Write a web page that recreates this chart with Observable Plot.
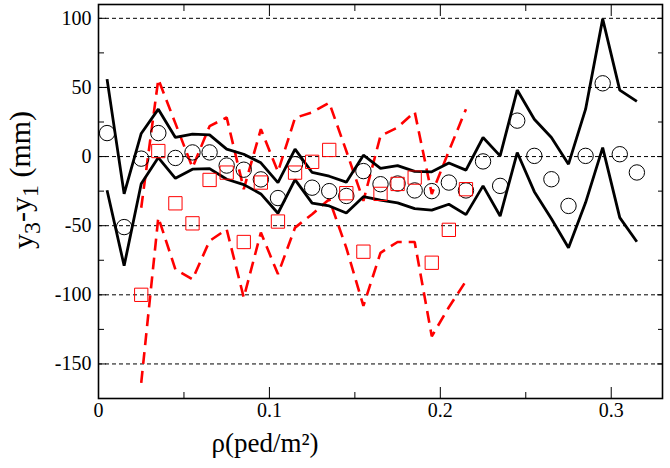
<!DOCTYPE html>
<html>
<head>
<meta charset="utf-8">
<script src="https://cdn.jsdelivr.net/npm/d3@7"></script>
<script src="https://cdn.jsdelivr.net/npm/@observablehq/plot@0.6"></script>
<style>
  body { margin: 0; background: #fff; }
  #chart svg { display: block; }
</style>
</head>
<body>
<div id="chart"></div>
<script>
// ---- data ----
const rhoBlack = [0.005, 0.015, 0.025, 0.035, 0.045, 0.055, 0.065, 0.075, 0.085, 0.095,
                  0.105, 0.115, 0.125, 0.135, 0.145, 0.155, 0.165, 0.175, 0.185, 0.195,
                  0.205, 0.215, 0.225, 0.235, 0.245, 0.255, 0.265, 0.275, 0.285, 0.295,
                  0.305, 0.315];
const blackMean  = [17, -51, -1.5, 17, -1, 3, 3, -6.5, -9.5, -16.5,
                    -30, -5.5, -22.5, -25, -28.5, -10.5, -20, -19.5, -24.5, -25,
                    -18.8, -24.5, -3.5, -21.2, 26, 0.5, -16.4, -35.7, 0.5, 53,
                    1.7, -11.5];
const blackUpper = [56, -27, 16.7, 34.3, 13.8, 16.2, 15.7, 5.4, 1.7, -4.5,
                    -18.8, 5.4, -11.5, -14.2, -18.5, 1, -8.5, -6.5, -10.7, -11,
                    -4.7, -9.8, 13.8, 0.5, 48.1, 27, 13.8, -5.5, 34.3, 99.6,
                    48.1, 39.9];
const blackLower = [-24.4, -79, -19.6, -0.7, -15.7, -9.1, -8.7, -16.4, -20.3, -27,
                    -41, -16.7, -33.7, -35.7, -40.8, -29, -31.5, -33.5, -37.7, -38.7,
                    -34.5, -42, -21.2, -43, 2.9, -25.4, -45, -65.9, -33.3, 6.5,
                    -44.2, -61.6];

const rhoRed   = [0.025, 0.035, 0.045, 0.055, 0.065, 0.075, 0.085, 0.095, 0.105, 0.115,
                  0.125, 0.135, 0.145, 0.155, 0.165, 0.175, 0.185, 0.195, 0.205, 0.215];
const redMean  = [-100, 4, -33.8, -48.3, -16.9, -11.6, -61.8, -18.8, -47, -11.6,
                  -3.8, 4.8, -26.5, -68.8, -27, -19.8, -15.2, -76.8, -53, -23.6];
const redUpper = [-37, 56, 24, -8, 22, 28.3, -23.6, 19.8, -11, 28,
                  32, 39, 4, -32, 15, 21, 32.4, -27, 4, 34.3];
const redLower = [-163.7, -44, -81.6, -88.8, -61, -52.6, -102, -55, -85, -51.4,
                  -41.7, -30.9, -66, -108, -69.6, -61.8, -61.8, -130, -109, -90];

const yMajor = [100, 50, 0, -50, -100, -150];
const yMinor = [75, 25, -25, -75, -125];
const xMajor = [0, 0.1, 0.2, 0.3];
const xMinor = [0.05, 0.15, 0.25];
const xTickLabels = ["0", "0.1", "0.2", "0.3"];
const yTitle = ["y", "3", "-y", "1", " (mm)"];
const xTitle = "ρ(ped/m²)";

// ---- tables ----
const black = rhoBlack.map((x, i) => ({x, m: blackMean[i], u: blackUpper[i], l: blackLower[i]}));
const red = rhoRed.map((x, i) => ({x, m: redMean[i], u: redUpper[i], l: redLower[i]}));

const RED = "#ff0000";
const FONT = "'Liberation Serif', 'Times New Roman', 'DejaVu Serif', serif";
const lineOpts = {strokeLinejoin: "miter", strokeLinecap: "butt", curve: "linear"};

const plot = Plot.plot({
  width: 670,
  height: 468,
  marginLeft: 98,
  marginRight: 8,
  marginTop: 4,
  marginBottom: 70,
  x: {domain: [0, 0.33]},
  y: {domain: [-175, 110]},
  style: {fontFamily: FONT, fontSize: "20px", color: "#000", background: "#fff"},
  marks: [
    Plot.ruleY(yMajor, {stroke: "#000", strokeWidth: 1, strokeDasharray: "4,3"}),
    Plot.line(red, {x: "x", y: "u", stroke: RED, strokeWidth: 2.6, strokeDasharray: "12,7", ...lineOpts}),
    Plot.line(red, {x: "x", y: "l", stroke: RED, strokeWidth: 2.6, strokeDasharray: "12,7", ...lineOpts}),
    Plot.line(black, {x: "x", y: "u", stroke: "#000", strokeWidth: 2.8, ...lineOpts}),
    Plot.line(black, {x: "x", y: "l", stroke: "#000", strokeWidth: 2.8, ...lineOpts}),
    Plot.dot(black, {x: "x", y: "m", r: 7.7, stroke: "#000", strokeWidth: 1, fill: "none"}),
    Plot.dot(red, {x: "x", y: "m", r: 7.5, symbol: "square", stroke: RED, strokeWidth: 1, fill: "none"}),
    Plot.frame({stroke: "#000", strokeWidth: 1.6}),
    // y axis: labels + inward ticks
    Plot.axisY({ticks: yMajor, anchor: "left", tickSize: -8, tickPadding: 15, label: null, tickFormat: d => String(d)}),
    Plot.axisY({ticks: yMinor, anchor: "left", tickSize: -6, label: null, tickFormat: () => ""}),
    Plot.axisY({ticks: yMajor, anchor: "right", tickSize: -6, label: null, tickFormat: () => ""}),
    Plot.axisY({ticks: yMinor, anchor: "right", tickSize: -5, label: null, tickFormat: () => ""}),
    // x axis
    Plot.axisX({ticks: xMajor, anchor: "bottom", tickSize: -11, tickPadding: 15, label: null,
                tickFormat: d => xTickLabels[xMajor.indexOf(d)]}),
    Plot.axisX({ticks: xMinor, anchor: "bottom", tickSize: -6, label: null, tickFormat: () => ""}),
    Plot.axisX({ticks: xMajor, anchor: "top", tickSize: -11, label: null, tickFormat: () => ""}),
    Plot.axisX({ticks: xMinor, anchor: "top", tickSize: -6, label: null, tickFormat: () => ""})
  ]
});

document.getElementById("chart").appendChild(plot);

// axis titles
const svg = d3.select(plot);
const yt = svg.append("text")
  .attr("transform", "translate(33,180) rotate(-90)")
  .attr("text-anchor", "middle")
  .style("font-family", FONT)
  .style("font-size", "30px")
  .attr("fill", "#000");
yt.append("tspan").text(yTitle[0]);
yt.append("tspan").attr("dy", "0.28em").style("font-size", "24px").text(yTitle[1]);
yt.append("tspan").attr("dy", "-0.28em").text(yTitle[2]);
yt.append("tspan").attr("dy", "0.28em").style("font-size", "24px").text(yTitle[3]);
yt.append("tspan").attr("dy", "-0.28em").text(yTitle[4]);

svg.append("text")
  .attr("x", 265)
  .attr("y", 452)
  .attr("text-anchor", "middle")
  .style("font-family", FONT)
  .style("font-size", "27px")
  .attr("fill", "#000")
  .text(xTitle);
</script>
</body>
</html>
